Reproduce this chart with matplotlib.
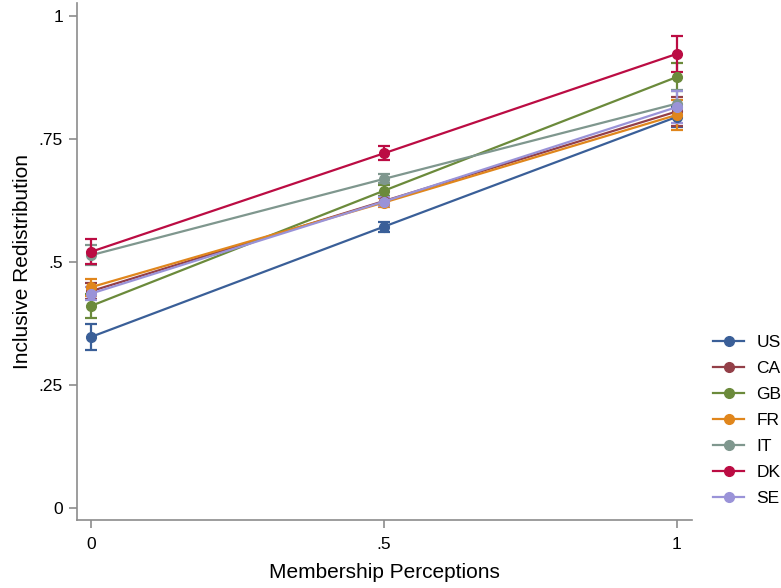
import numpy as np
import matplotlib
matplotlib.use("Agg")
import matplotlib.pyplot as plt
from matplotlib.lines import Line2D

# membership perception levels on the x axis
x_levels = [0, 0.5, 1]
countries = ["US", "CA", "GB", "FR", "IT", "DK", "SE"]

# predicted inclusive redistribution at each level
us = [0.348, 0.572, 0.795]
ca = [0.441, 0.624, 0.806]
gb = [0.411, 0.645, 0.876]
fr = [0.449, 0.621, 0.799]
it = [0.514, 0.669, 0.822]
dk = [0.521, 0.721, 0.923]
se = [0.436, 0.623, 0.815]

# half-widths of the confidence intervals
us_err = [0.026, 0.010, 0.020]
ca_err = [0.016, 0.010, 0.030]
gb_err = [0.024, 0.011, 0.028]
fr_err = [0.017, 0.010, 0.031]
it_err = [0.020, 0.009, 0.027]
dk_err = [0.025, 0.014, 0.036]
se_err = [0.013, 0.010, 0.033]

values = [us, ca, gb, fr, it, dk, se]
errors = [us_err, ca_err, gb_err, fr_err, it_err, dk_err, se_err]
colors = ["#3a5f98", "#933f48", "#6b8a3b", "#e0861c", "#7f978e", "#bb0c43", "#9a93d8"]

plt.rcParams["font.family"] = ["Liberation Sans", "DejaVu Sans"]

fig = plt.figure(figsize=(7.81, 5.88), dpi=100)
ax = fig.add_axes([0.0986, 0.1156, 0.7875, 0.879])

for vals, errs, col in zip(values, errors, colors):
    ax.errorbar(x_levels, vals, yerr=errs, color=col, ecolor=col, lw=1.6,
                elinewidth=1.6, capsize=4, capthick=1.6, marker="o",
                markersize=7, zorder=3)

ax.set_xlim(-0.024, 1.026)
ax.set_ylim(-0.024, 1.026)
ax.set_xticks([0, 0.5, 1])
ax.set_xticklabels(["0", ".5", "1"])
ax.set_yticks([0, 0.25, 0.5, 0.75, 1])
ax.set_yticklabels(["0", ".25", ".5", ".75", "1"])

for side in ["top", "right"]:
    ax.spines[side].set_visible(False)
for side in ["left", "bottom"]:
    ax.spines[side].set_color("#8c8c8c")
    ax.spines[side].set_linewidth(1.2)
ax.tick_params(axis="both", colors="#8c8c8c", labelcolor="black",
               length=6, width=1.2, labelsize=12.5)
ax.tick_params(axis="y", pad=4)
ax.tick_params(axis="x", pad=6)

ax.set_xlabel("Membership Perceptions", fontsize=15, labelpad=8)
ax.set_ylabel("Inclusive Redistribution", fontsize=15, labelpad=5)

handles = [Line2D([0], [0], color=c, lw=1.6, marker="o", markersize=7)
           for c in colors]
fig.legend(handles, countries, loc="upper left",
           bbox_to_anchor=(706 / 781, 1 - 328 / 588), frameon=False,
           fontsize=12.5, handlelength=1.8, handletextpad=0.7,
           labelspacing=0.62, borderaxespad=0)

fig.savefig("out.png", dpi=100)
